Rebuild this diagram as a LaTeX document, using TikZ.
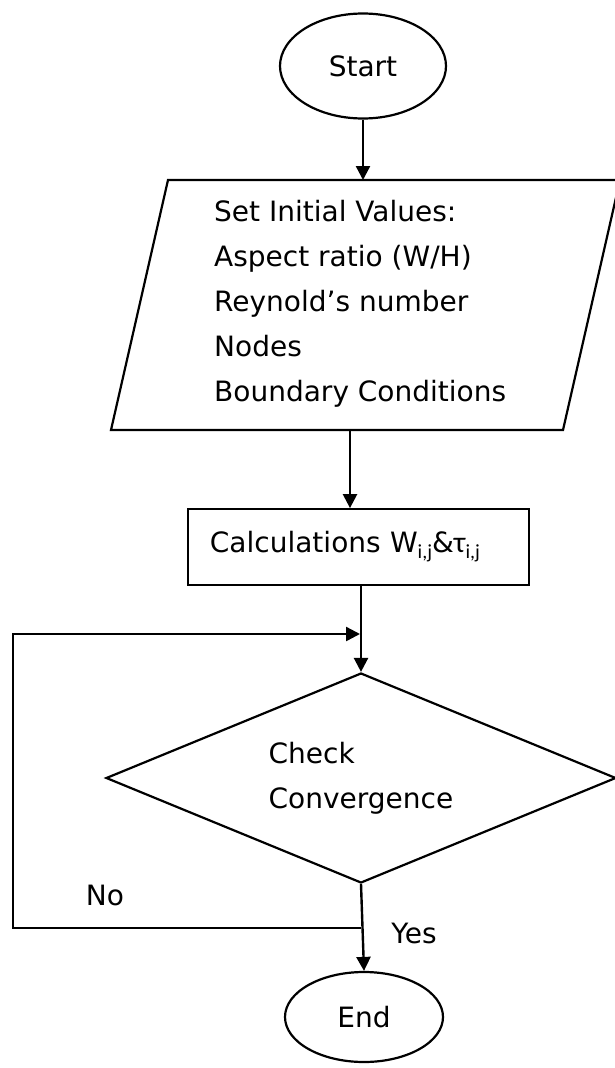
\documentclass[tikz,border=0pt]{standalone}
\usepackage{fontspec}
\setmainfont{DejaVu Sans}
\newfontfamily\subfont{Carlito}
\usetikzlibrary{positioning,arrows.meta,shapes.geometric}
\tikzset{
  term/.style={draw, ellipse, line width=2.2pt, inner sep=0pt},
  procbox/.style={draw, rectangle, line width=1.8pt, inner xsep=22pt, inner ysep=0pt},
  decide/.style={draw, diamond, line width=2.2pt, inner sep=0pt, aspect=2.43, align=left},
  inbox/.style={line width=2.2pt, line join=miter},
  flow/.style={-{Triangle[length=14pt,width=14pt]}, line width=2.4pt},
}
\newcommand{\subij}{\raisebox{-6pt}{\subfont\fontsize{20}{20}\selectfont i,j}}

\begin{document}
\begin{tikzpicture}[x=1pt, y=-1pt, font=\fontsize{28}{45}\selectfont]
  \useasboundingbox (0,0) rectangle (615,1068);
  \node[term, minimum width=166pt, minimum height=105pt] (start) at (363,66) {Start};
  % input box (parallelogram)
  \draw[inbox] (111,430) -- (563,430) -- (620,180) -- (168,180) -- cycle;
  \coordinate (initTop) at (366,180);
  \coordinate (initBot) at (350,430);
  \node[anchor=west, align=left, inner sep=0pt] (init) at (214,304)
    {Set Initial Values:\\Aspect ratio (W/H)\\Reynold’s number\\Nodes\\Boundary Conditions};
  \node[procbox, minimum height=76pt, text width=297pt, anchor=west] (calc) at (187,547)
    {Calculations W\subij\&{\subfont\fontsize{30}{30}\selectfont τ}\subij};
  \node[decide, minimum width=510pt, minimum height=210pt] (check) at (361,778) {Check\\Convergence};
  \node[term, minimum width=158pt, minimum height=90pt] (end) at (364,1017) {End};
  \coordinate (merge) at (360,634);
  \coordinate (split) at (361,928);
  \draw[flow] (start.south) -- (start.south |- initTop);
  \draw[flow] (initBot) -- (initBot |- calc.north);
  \draw[flow] (check.north |- calc.south) -- (check.north);
  \draw[flow] (check.south) -- (end.north);
  \draw[flow] (split) -- (13,928) |- (merge);
  \node (no) at (105,895) {No};
  \node (yes) at (414,933) {Yes};
\end{tikzpicture}
\end{document}
